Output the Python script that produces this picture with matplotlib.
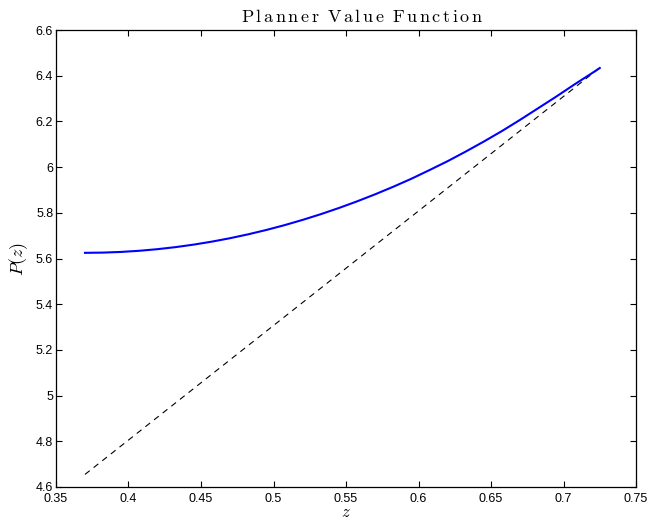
import matplotlib
matplotlib.use("Agg")
import matplotlib.pyplot as plt
import numpy as np

plt.rcParams['font.family'] = ['Liberation Sans', 'DejaVu Sans']
plt.rcParams['mathtext.fontset'] = 'cm'

# planner value function P(z)
z = [0.370, 0.3825, 0.395, 0.4075, 0.420, 0.4325, 0.445, 0.4575, 0.470,
     0.4825, 0.495, 0.5075, 0.520, 0.5325, 0.545, 0.5575, 0.570, 0.5825,
     0.595, 0.6075, 0.620, 0.6325, 0.645, 0.6575, 0.670, 0.6825, 0.695,
     0.7075, 0.720, 0.725]
P = [5.625, 5.626, 5.629, 5.634, 5.641, 5.650, 5.661, 5.674, 5.689,
     5.706, 5.725, 5.746, 5.769, 5.794, 5.821, 5.850, 5.881, 5.914,
     5.949, 5.987, 6.026, 6.068, 6.112, 6.158, 6.207, 6.258, 6.309,
     6.362, 6.413, 6.434]

# dashed reference line
ref_z = [0.37, 0.725]
ref_P = [4.655, 6.435]

xticks = [0.35, 0.4, 0.45, 0.5, 0.55, 0.6, 0.65, 0.7, 0.75]
xtick_labels = ['0.35', '0.4', '0.45', '0.5', '0.55', '0.6', '0.65', '0.7', '0.75']
yticks = [4.6, 4.8, 5.0, 5.2, 5.4, 5.6, 5.8, 6.0, 6.2, 6.4, 6.6]
ytick_labels = ['4.6', '4.8', '5', '5.2', '5.4', '5.6', '5.8', '6', '6.2', '6.4', '6.6']

fig = plt.figure(figsize=(6.51, 5.19), dpi=100)
ax = fig.add_axes([0.086, 0.0617, 0.891, 0.8803])

ax.plot(ref_z, ref_P, color='black', lw=0.8, dashes=(5.4, 4.5))
ax.plot(z, P, color='#0000ff', lw=1.5)

ax.set_xlim(0.35, 0.75)
ax.set_ylim(4.6, 6.6)
ax.set_xticks(xticks)
ax.set_xticklabels(xtick_labels)
ax.set_yticks(yticks)
ax.set_yticklabels(ytick_labels)
ax.tick_params(direction='in', length=4, width=0.8, top=True, right=True,
               labelsize=9)
ax.tick_params(axis='x', pad=4.5)
ax.tick_params(axis='y', pad=2)
for s in ax.spines.values():
    s.set_linewidth(0.9)

# MATLAB's latex title is letterspaced, mimic with thin math spaces
ax.set_title(r'$\mathrm{P\,l\,a\,n\,n\,e\,r\ \:V\,a\,l\,u\,e\ \:F\,u\,n\,c\,t\,i\,o\,n}$',
             fontsize=13, pad=6, x=0.5276)
ax.set_xlabel(r'$z$', fontsize=12, labelpad=-0.5)
ax.set_ylabel(r'$P(z)$', fontsize=13, labelpad=4)

fig.savefig('out.png', dpi=100)
